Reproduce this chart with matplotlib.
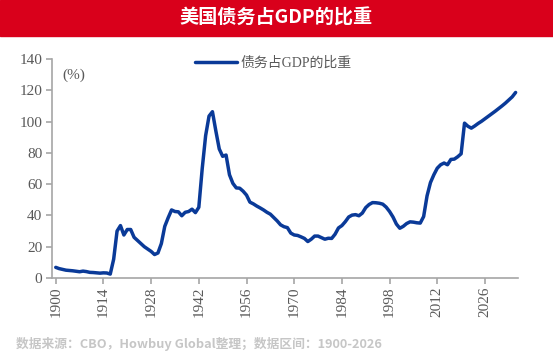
from matplotlib import pyplot as plt

plt.rcParams['font.family'] = ['Liberation Serif', 'Noto Sans CJK SC']

years = list(range(1900, 2036))
debt = [6.8, 6.0, 5.5, 5.0, 4.8, 4.6, 4.3, 4.0, 4.4, 4.1,
        3.6, 3.5, 3.3, 3.1, 3.3, 3.2, 2.5, 12.0, 30.0, 33.5,
        27.5, 31.0, 31.0, 26.0, 24.0, 22.0, 20.0, 18.5, 17.0, 15.0,
        16.0, 22.0, 33.0, 38.5, 43.5, 42.5, 42.3, 39.8, 42.0, 42.5,
        44.0, 41.8, 45.2, 70.0, 91.0, 103.5, 106.3, 94.0, 82.5, 77.8,
        78.6, 66.0, 60.5, 57.6, 57.4, 55.5, 53.0, 48.5, 47.4, 46.0,
        44.8, 43.5, 42.0, 40.8, 38.6, 36.5, 34.0, 32.8, 32.2, 28.7,
        27.5, 27.2, 26.3, 25.3, 23.3, 24.8, 26.8, 26.8, 25.8, 24.8,
        25.4, 25.3, 28.0, 32.0, 33.5, 36.0, 39.0, 40.2, 40.5, 39.8,
        41.5, 45.0, 47.0, 48.2, 48.1, 47.8, 47.2, 45.3, 42.5, 39.0,
        34.5, 31.8, 33.0, 34.8, 35.9, 35.7, 35.3, 35.1, 39.3, 52.5,
        61.0, 66.0, 70.2, 72.4, 73.5, 72.4, 75.8, 76.0, 77.5, 79.4,
        99.0, 97.0, 95.8, 97.2, 98.8, 100.2, 101.8, 103.4, 105.0, 106.6,
        108.3, 110.0, 111.8, 113.8, 115.8, 118.6]

xtick_years = list(range(1900, 2027, 14))
series_name = '债务占GDP的比重'
title = '美国债务占GDP的比重'
source = '数据来源：CBO，Howbuy Global整理；数据区间：1900-2026'

fig = plt.figure(figsize=(5.53, 3.53), dpi=100)
ax = fig.add_axes([52 / 553, 1 - 278 / 353, (518 - 52) / 553, (278 - 59) / 353])

ax.plot(years, debt, color='#0A3A98', linewidth=2.5, label=series_name,
        solid_joinstyle='round', solid_capstyle='round')

ax.set_xlim(1898.9, 2035.7)
ax.set_ylim(0, 140)
ax.set_yticks(range(0, 141, 20))
ax.set_xticks(xtick_years)
ax.set_xticklabels([str(y) for y in xtick_years], rotation=90)

for s in ['top', 'right']:
    ax.spines[s].set_visible(False)
for s in ['left', 'bottom']:
    ax.spines[s].set_color('#A6A6A6')
    ax.spines[s].set_linewidth(1.2)
ax.tick_params(axis='both', colors='#A6A6A6', labelcolor='#595959',
               labelsize=11, length=4, width=1.2, direction='out')
ax.tick_params(axis='y', pad=3)
ax.tick_params(axis='x', pad=2)

ax.text(0.022, 0.925, '(%)', transform=ax.transAxes, fontsize=11,
        color='#595959', va='center', ha='left')

leg = ax.legend(loc='upper left', bbox_to_anchor=(0.295, 1.035), frameon=False,
                fontsize=10, handlelength=3.0, handletextpad=0.3,
                borderaxespad=0)
for t in leg.get_texts():
    t.set_color('#595959')

# 红色标题栏
fig.patches.append(plt.Rectangle((0, 1 - 36 / 353), 1, 36 / 353,
                                 transform=fig.transFigure, color='#D9001B',
                                 zorder=0))
fig.text(0.5, 1 - 18 / 353, title, color='white', fontsize=13.8,
         fontweight='bold', ha='center', va='center',
         family=['Noto Sans CJK SC', 'DejaVu Sans'])

fig.text(16 / 553, 1 - 344 / 353, source, color='#C6C6C6', fontsize=9.2,
         fontweight='bold', ha='left', va='center',
         family=['Noto Sans CJK SC', 'DejaVu Sans'])

fig.savefig('out.png', dpi=100)
